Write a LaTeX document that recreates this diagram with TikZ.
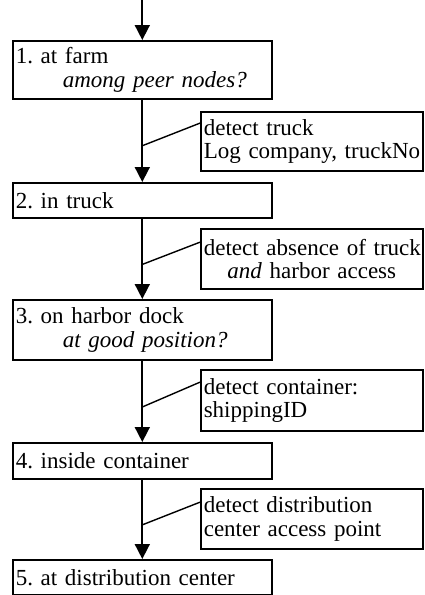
\documentclass[tikz,border=0pt]{standalone}
\usepackage{fontspec}
\setmainfont{Liberation Serif}
\usetikzlibrary{arrows.meta,calc}
\newcommand{\oneline}[1]{\mbox{#1}}
\frenchspacing
\begin{document}
\begin{tikzpicture}[x=1pt,y=-1pt,
  every node/.style={font=\fontsize{23}{23.5}\selectfont\frenchspacing},
  stage/.style={draw, line width=1.6pt, anchor=north west, minimum width=259pt,
    text width=253pt, inner xsep=3pt, inner ysep=0pt, align=left},
  note/.style={draw, line width=1.6pt, anchor=north west, minimum width=222pt,
    text width=216pt, inner xsep=3pt, inner ysep=0pt, align=left},
  flow/.style={line width=1.7pt, -{Triangle[width=15pt,length=15pt]}},
  tie/.style={line width=1.4pt}]
\useasboundingbox (0,0) rectangle (424,595);
\coordinate (origin) at (0,0);

\node[stage, minimum height=58pt] (b1) at (12,40) {\oneline{1. at farm}\\\hspace*{47pt}\oneline{\textit{among peer nodes?}}};
\node[stage, minimum height=35pt] (b2) at (12,182) {\oneline{2. in truck}};
\node[stage, minimum height=60pt] (b3) at (12,299) {\oneline{3. on harbor dock}\\\hspace*{47pt}\oneline{\textit{at good position?}}};
\node[stage, minimum height=36pt] (b4) at (12,442) {\oneline{4. inside container}};
\node[stage, minimum height=35pt] (b5) at (12,559) {\oneline{5. at distribution center}};

\node[note, minimum height=59pt] (n1) at (200,111) {\oneline{detect truck}\\\oneline{Log company, truckNo}};
\node[note, minimum height=60pt, align=center] (n2) at (200,228) {\oneline{detect absence of truck}\\\oneline{\textit{and} harbor access}};
\node[note, minimum height=61pt] (n3) at (200,369) {\oneline{detect container:}\\\oneline{shippingID}};
\node[note, minimum height=60pt] (n4) at (200,488) {\oneline{detect distribution}\\\oneline{center access point}};

\coordinate (top) at (b1.north |- origin);
\draw[flow] (top) -- (b1.north);
\draw[flow] (b1.south) -- (b2.north);
\draw[flow] (b2.south) -- (b3.north);
\draw[flow] (b3.south) -- (b4.north);
\draw[flow] (b4.south) -- (b5.north);

\coordinate (m1) at ($(b1.south)!0.56!(b2.north)$);
\coordinate (m2) at ($(b2.south)!0.57!(b3.north)$);
\coordinate (m3) at ($(b3.south)!0.57!(b4.north)$);
\coordinate (m4) at ($(b4.south)!0.57!(b5.north)$);

\draw[tie] (m1) -- ($(n1.north west)!0.2!(n1.south west)$);
\draw[tie] (m2) -- ($(n2.north west)!0.23!(n2.south west)$);
\draw[tie] (m3) -- ($(n3.north west)!0.21!(n3.south west)$);
\draw[tie] (m4) -- ($(n4.north west)!0.23!(n4.south west)$);
\end{tikzpicture}
\end{document}
